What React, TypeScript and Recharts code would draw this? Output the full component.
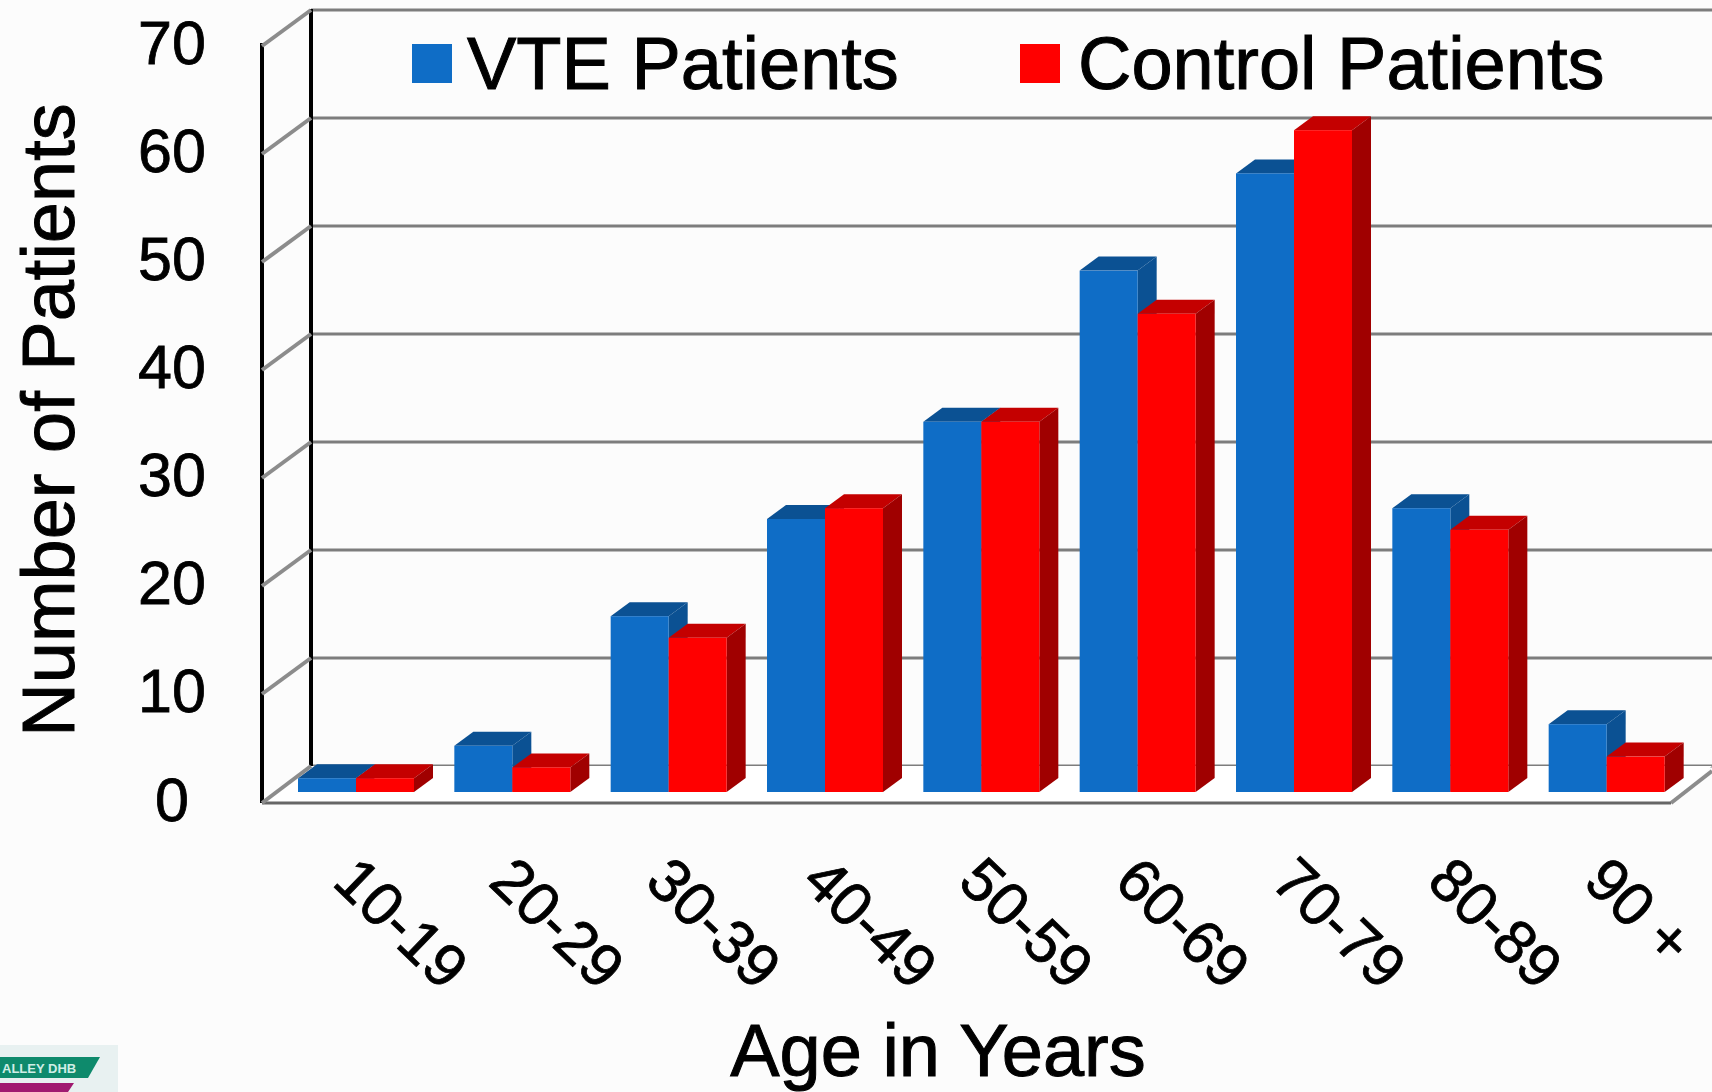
import React from 'react';
import { ComposedChart, Bar, XAxis, YAxis, Legend, CartesianGrid } from 'recharts';

const ageGroups = ['10-19', '20-29', '30-39', '40-49', '50-59', '60-69', '70-79', '80-89', '90 +'];
const vtePatients = [1, 4, 16, 25, 34, 48, 57, 26, 6];
const controlPatients = [1, 2, 14, 26, 34, 44, 61, 24, 3];
const yTicks = [0, 10, 20, 30, 40, 50, 60, 70];
const legendOrder = ['VTE Patients', 'Control Patients'];

const rows = ageGroups.map((age, i) => ({ age, vte: vtePatients[i], control: controlPatients[i] }));

const FONT = '"Liberation Sans", Arial, sans-serif';
const DX = 19;
const DY = 14;
const FRONT_X = 262;
const BACK_X = 311;
const RIGHT_END = 1712;
const BACK_OFFSET = -23;
const FRONT_OFFSET = 13;
const Y_MAX = 70;

function makeBar(front: string, top: string, side: string) {
  return function Bar3D(props: any) {
    const { x, y, width, height } = props;
    const b = y + height + 3;
    const r = x + width;
    return (
      <g>
        <polygon points={`${x},${y} ${x + DX},${y - DY} ${r + DX},${y - DY} ${r},${y}`} fill={top} />
        <polygon points={`${r},${y} ${r + DX},${y - DY} ${r + DX},${b - DY} ${r},${b}`} fill={side} />
        <rect x={x} y={y} width={width} height={b - y} fill={front} />
      </g>
    );
  };
}

function YTick(props: any) {
  const { y, payload } = props;
  const back = y + BACK_OFFSET;
  const front = y + FRONT_OFFSET + (payload.value === 0 ? 1 : 0);
  return (
    <g>
      <line x1={FRONT_X} y1={front} x2={BACK_X} y2={back} stroke="#8c8c8c" strokeWidth={4} />
      <text x={172} y={front + 18} textAnchor="middle" fontFamily={FONT} fontSize={61} fill="#000" stroke="#000" strokeWidth={0.8}>
        {payload.value}
      </text>
    </g>
  );
}

function XTick(props: any) {
  const { x, y, payload } = props;
  const px = x - 25;
  const py = y + 87;
  return (
    <text x={px} y={py} transform={`rotate(44 ${px} ${py})`} fontFamily={FONT} fontSize={61} fill="#000" stroke="#000" strokeWidth={0.8}>
      {payload.value}
    </text>
  );
}

function LegendBox(props: any) {
  const items = props.payload || [];
  const pos = [
    { sw: 412, tx: 467 },
    { sw: 1020, tx: 1078 },
  ];
  return (
    <svg width={1712} height={110} style={{ display: 'block', overflow: 'visible' }}>
      {legendOrder.map((name, i) => {
        const it = items.find((d: any) => d.value === name);
        if (!it) return null;
        return (
          <g key={name}>
            <rect x={pos[i].sw} y={44} width={40} height={39} fill={it.color} />
            <text x={pos[i].tx} y={89} fontFamily={FONT} fontSize={74} fill="#000" stroke="#000" strokeWidth={1}>
              {name}
            </text>
          </g>
        );
      })}
    </svg>
  );
}

const VteShape = makeBar('#0f6dc6', '#0b5193', '#0b5193');
const ControlShape = makeBar('#ff0000', '#c40000', '#a00000');

const backWallLines = (args: any) => {
  const offset = args && args.offset;
  if (!offset) return [];
  return yTicks.map((v) => offset.top + offset.height * (1 - v / Y_MAX) + BACK_OFFSET);
};

export default function App() {
  return (
    <div style={{ position: 'absolute', left: 0, top: 0, width: 1712, height: 1092, overflow: 'hidden', background: '#fcfcfc' }}>
      <ComposedChart
        width={1712}
        height={1092}
        data={rows}
        margin={{ top: 33, left: 276.5, right: 27.5, bottom: 302 }}
        barGap={0}
        barCategoryGap={20.5}
      >
        <polygon points={`${FRONT_X},803 ${BACK_X},766 ${RIGHT_END},766 1671,803`} fill="#ffffff" />
        <CartesianGrid
          vertical={false}
          x={BACK_X}
          width={RIGHT_END - BACK_X}
          y={0}
          height={800}
          stroke="#7d7d7d"
          strokeWidth={3}
          horizontalCoordinatesGenerator={backWallLines}
        />
        <YAxis
          type="number"
          domain={[0, Y_MAX]}
          ticks={yTicks}
          interval={0}
          width={1}
          axisLine={false}
          tickLine={false}
          tick={<YTick />}
        />
        <line x1={FRONT_X} y1={43} x2={FRONT_X} y2={803} stroke="#000" strokeWidth={4} />
        <line x1={BACK_X} y1={9} x2={BACK_X} y2={766} stroke="#000" strokeWidth={4} />
        <line x1={FRONT_X} y1={803} x2={1671} y2={803} stroke="#666" strokeWidth={3} />
        <line x1={1671} y1={803} x2={RIGHT_END} y2={771} stroke="#8c8c8c" strokeWidth={4} />
        <XAxis dataKey="age" height={1} interval={0} axisLine={false} tickLine={false} tick={<XTick />} />
        <Bar dataKey="vte" name="VTE Patients" fill="#0f6dc6" shape={<VteShape />} isAnimationActive={false} />
        <Bar dataKey="control" name="Control Patients" fill="#ff0000" shape={<ControlShape />} isAnimationActive={false} />
        <Legend
          content={<LegendBox />}
          layout="horizontal"
          verticalAlign="middle"
          wrapperStyle={{ position: 'absolute', left: 0, top: 0, width: 1712, height: 110, margin: 0, padding: 0 }}
        />
        <text
          transform="translate(74 420) rotate(-90)"
          textAnchor="middle"
          fontFamily={FONT}
          fontSize={74}
          fill="#000"
          stroke="#000"
          strokeWidth={1}
        >
          Number of Patients
        </text>
        <text x={938} y={1076} textAnchor="middle" fontFamily={FONT} fontSize={74} fill="#000" stroke="#000" strokeWidth={1}>
          Age in Years
        </text>
        <g>
          <rect x={0} y={1045} width={118} height={47} fill="#e8f1f1" />
          <polygon points="0,1057 100,1057 88,1078 0,1078" fill="#0e8a6c" />
          <text x={2} y={1073} fontFamily={FONT} fontSize={13} fontWeight="bold" fill="#cfeee6">
            ALLEY DHB
          </text>
          <polygon points="0,1083 74,1083 68,1092 0,1092" fill="#a01a70" />
        </g>
      </ComposedChart>
    </div>
  );
}
